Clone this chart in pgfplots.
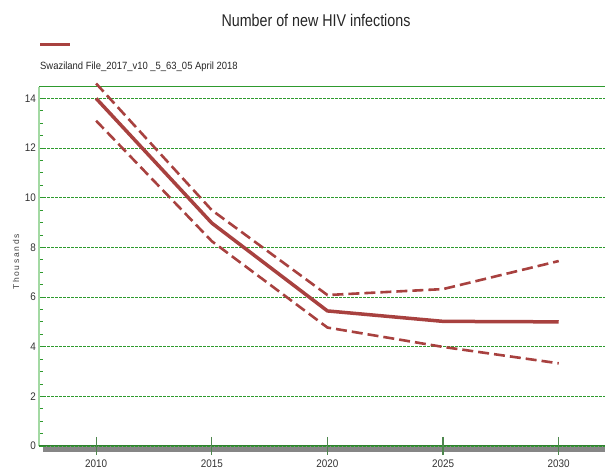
\documentclass[border=0pt]{standalone}
\usepackage{pgfplots}
\pgfplotsset{compat=1.18}
\usepackage{fontspec}
\setmainfont{Liberation Sans}
\definecolor{hivred}{HTML}{A8413F}
\definecolor{gridgreen}{HTML}{2E9A2E}
\definecolor{axgreen}{HTML}{A3D9A3}
\definecolor{botgreen}{HTML}{2F7F2F}
\begin{document}
\begin{tikzpicture}[x=1pt,y=1pt]
\useasboundingbox (0,0) rectangle (605,470);
\node[font=\fontsize{17}{17}\selectfont, xscale=0.84, text=black!85] at (316,450) {Number of new HIV infections};
\draw[hivred, line width=3pt] (40,425) -- (70,425);
\node[anchor=west, font=\fontsize{10.5}{10.5}\selectfont, xscale=0.9, text=black!85, inner sep=0pt] at (40,403) {Swaziland File\_2017\_v10 \_5\_63\_05 April 2018};
\node[rotate=90, font=\fontsize{8.5}{8.5}\selectfont\addfontfeature{LetterSpace=20}, text=black!75] at (16,208) {Thousands};
\fill[gray!95] (43,18) rectangle (605,23.5);
\begin{axis}[
  at={(39pt,24pt)}, anchor=south west, scale only axis,
  width=566pt, height=359pt,
  xmin=2007.53, xmax=2032, ymin=0, ymax=14.46,
  clip=false,
  axis line style={draw=none},
  xtick={2010,2015,2020,2025,2030},
  ytick={0,2,4,6,8,10,12,14},
  minor y tick num=3,
  tick align=inside,
  xtick pos=bottom, ytick pos=left,
  xtick style={draw=none},
  ytick style={gridgreen, line width=0.8pt},
  major tick length=5pt, minor tick length=4pt,
  ymajorgrids,
  major grid style={gridgreen, dash pattern=on 2.5pt off 1.5pt, line width=0.7pt},
  /pgf/number format/assume math mode=true,
  /pgf/number format/1000 sep={},
  xticklabel style={font=\fontsize{11}{11}\selectfont, text=black!80, xscale=0.9, yshift=-10pt},
  yticklabel style={font=\fontsize{11}{11}\selectfont, text=black!80, xscale=0.9},
]
\draw[axgreen, line width=2pt] (rel axis cs:0,0) -- (rel axis cs:0,1);
\draw[gridgreen, line width=1pt] (rel axis cs:0,1) -- (rel axis cs:1,1);
\draw[botgreen, line width=1pt] (rel axis cs:0,0) -- (rel axis cs:1,0);
\foreach \xx in {2010,2015,2020,2025,2030} {
  \edef\tmp{\noexpand\draw[axgreen!80!green!60!black, line width=1.2pt] (axis cs:\xx,0) ++(0pt,9pt) -- ++(0pt,-18pt);}
  \tmp
}
\addplot[hivred, line width=3.5pt] coordinates {(2010,14.0)(2015,8.98)(2020,5.44)(2025,5.02)(2030,5.0)};
\addplot[hivred, line width=2.6pt, dash pattern=on 11pt off 5pt] coordinates {(2010,14.6)(2015,9.5)(2020,6.08)(2025,6.32)(2030,7.45)};
\addplot[hivred, line width=2.6pt, dash pattern=on 11pt off 5pt] coordinates {(2010,13.1)(2015,8.25)(2020,4.77)(2025,3.99)(2030,3.33)};
\end{axis}
\end{tikzpicture}
\end{document}
